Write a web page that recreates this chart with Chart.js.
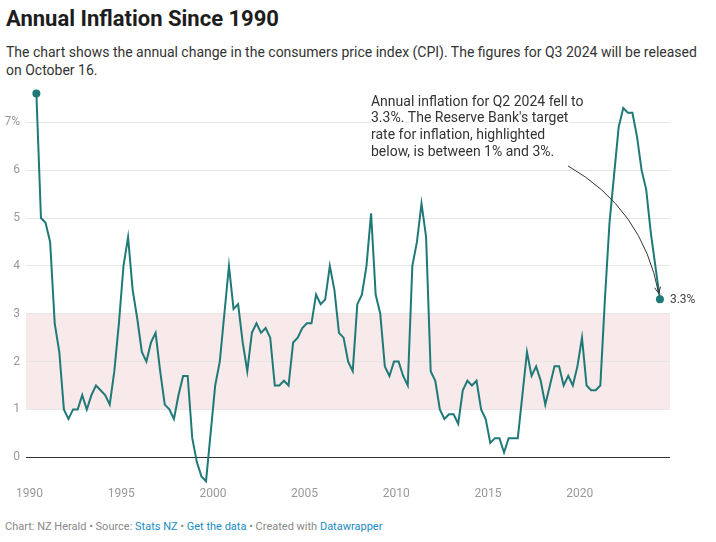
<!DOCTYPE html>
<html>
<head>
<meta charset="utf-8">
<script src="https://cdn.jsdelivr.net/npm/chart.js@4/dist/chart.umd.min.js"></script>
<style>
  html, body { margin:0; padding:0; background:#fff; }
  body { width:716px; height:542px; position:relative; overflow:hidden; font-family: Roboto, "Noto Sans", sans-serif; }
  #title { position:absolute; left:6px; top:6px; font-weight:700; font-size:22px; line-height:26px; color:#1d1d1d; white-space:nowrap; }
  #subtitle { position:absolute; left:6px; top:43px; width:705px; font-size:14px; line-height:18px; color:#333; }
  #footer { position:absolute; left:5px; top:520px; font-size:11px; line-height:14px; color:#888; white-space:nowrap; }
  #footer .lnk { color:#1a8bc4; }
  #wrap { position:absolute; left:0; top:80px; width:716px; height:430px; }
</style>
</head>
<body>
<div id="title">Annual Inflation Since 1990</div>
<div id="subtitle">The chart shows the annual change in the consumers price index (CPI). The figures for Q3 2024 will be released on October 16.</div>
<div id="footer">Chart: NZ Herald • Source: <span class="lnk">Stats NZ</span> • <span class="lnk">Get the data</span> • Created with <span class="lnk">Datawrapper</span></div>
<div id="wrap"><canvas id="c" width="716" height="430"></canvas></div>
<script>
// ---- DATA ----
const quarters = [
  "1990Q2","1990Q3","1990Q4",
  "1991Q1","1991Q2","1991Q3","1991Q4",
  "1992Q1","1992Q2","1992Q3","1992Q4",
  "1993Q1","1993Q2","1993Q3","1993Q4",
  "1994Q1","1994Q2","1994Q3","1994Q4",
  "1995Q1","1995Q2","1995Q3","1995Q4",
  "1996Q1","1996Q2","1996Q3","1996Q4",
  "1997Q1","1997Q2","1997Q3","1997Q4",
  "1998Q1","1998Q2","1998Q3","1998Q4",
  "1999Q1","1999Q2","1999Q3","1999Q4",
  "2000Q1","2000Q2","2000Q3","2000Q4",
  "2001Q1","2001Q2","2001Q3","2001Q4",
  "2002Q1","2002Q2","2002Q3","2002Q4",
  "2003Q1","2003Q2","2003Q3","2003Q4",
  "2004Q1","2004Q2","2004Q3","2004Q4",
  "2005Q1","2005Q2","2005Q3","2005Q4",
  "2006Q1","2006Q2","2006Q3","2006Q4",
  "2007Q1","2007Q2","2007Q3","2007Q4",
  "2008Q1","2008Q2","2008Q3","2008Q4",
  "2009Q1","2009Q2","2009Q3","2009Q4",
  "2010Q1","2010Q2","2010Q3","2010Q4",
  "2011Q1","2011Q2","2011Q3","2011Q4",
  "2012Q1","2012Q2","2012Q3","2012Q4",
  "2013Q1","2013Q2","2013Q3","2013Q4",
  "2014Q1","2014Q2","2014Q3","2014Q4",
  "2015Q1","2015Q2","2015Q3","2015Q4",
  "2016Q1","2016Q2","2016Q3","2016Q4",
  "2017Q1","2017Q2","2017Q3","2017Q4",
  "2018Q1","2018Q2","2018Q3","2018Q4",
  "2019Q1","2019Q2","2019Q3","2019Q4",
  "2020Q1","2020Q2","2020Q3","2020Q4",
  "2021Q1","2021Q2","2021Q3","2021Q4",
  "2022Q1","2022Q2","2022Q3","2022Q4",
  "2023Q1","2023Q2","2023Q3","2023Q4",
  "2024Q1","2024Q2"
];
const inflation = [
  7.6, 5.0, 4.9,
  4.5, 2.8, 2.2, 1.0,
  0.8, 1.0, 1.0, 1.3,
  1.0, 1.3, 1.5, 1.4,
  1.3, 1.1, 1.8, 2.8,
  4.0, 4.6, 3.5, 2.9,
  2.2, 2.0, 2.4, 2.6,
  1.8, 1.1, 1.0, 0.8,
  1.3, 1.7, 1.7, 0.4,
  -0.1, -0.4, -0.5, 0.5,
  1.5, 2.0, 3.0, 4.0,
  3.1, 3.2, 2.4, 1.8,
  2.6, 2.8, 2.6, 2.7,
  2.5, 1.5, 1.5, 1.6,
  1.5, 2.4, 2.5, 2.7,
  2.8, 2.8, 3.4, 3.2,
  3.3, 4.0, 3.5, 2.6,
  2.5, 2.0, 1.8, 3.2,
  3.4, 4.0, 5.1, 3.4,
  3.0, 1.9, 1.7, 2.0,
  2.0, 1.7, 1.5, 4.0,
  4.5, 5.3, 4.6, 1.8,
  1.6, 1.0, 0.8, 0.9,
  0.9, 0.7, 1.4, 1.6,
  1.5, 1.6, 1.0, 0.8,
  0.3, 0.4, 0.4, 0.1,
  0.4, 0.4, 0.4, 1.3,
  2.2, 1.7, 1.9, 1.6,
  1.1, 1.5, 1.9, 1.9,
  1.5, 1.7, 1.5, 1.9,
  2.5, 1.5, 1.4, 1.4,
  1.5, 3.3, 4.9, 5.9,
  6.9, 7.3, 7.2, 7.2,
  6.7, 6.0, 5.6, 4.7,
  4.0, 3.3
];
const xTickValues = [1990, 1995, 2000, 2005, 2010, 2015, 2020];
const xTickLabels = ["1990", "1995", "2000", "2005", "2010", "2015", "2020"];
const yTickValues = [0, 1, 2, 3, 4, 5, 6, 7];
const yTickLabels = ["0", "1", "2", "3", "4", "5", "6", "7%"];
const targetBand = [1, 3];
const annotationLines = [
  "Annual inflation for Q2 2024 fell to",
  "3.3%. The Reserve Bank's target",
  "rate for inflation, highlighted",
  "below, is between 1% and 3%."
];

// quarter label -> decimal year (middle of quarter)
function quarterToYear(q) {
  const y = parseInt(q.slice(0, 4), 10);
  const n = parseInt(q.slice(5), 10);
  return y + (n - 0.5) / 4;
}
const points = quarters.map((q, i) => ({ x: quarterToYear(q), y: inflation[i] }));

const LINE = '#1f7a77';

const bandPlugin = {
  id: 'band',
  beforeDraw(chart) {
    const { ctx, chartArea, scales } = chart;
    const y1 = scales.y.getPixelForValue(targetBand[1]);
    const y0 = scales.y.getPixelForValue(targetBand[0]);
    ctx.save();
    ctx.fillStyle = '#f8e9ea';
    ctx.fillRect(chartArea.left, y1, chartArea.right - chartArea.left, y0 - y1);
    ctx.restore();
  }
};

const annoPlugin = {
  id: 'anno',
  afterDatasetsDraw(chart) {
    const { ctx, scales } = chart;
    const xs = scales.x, ys = scales.y;
    ctx.save();
    // annotation text
    const tx = xs.getPixelForValue(2008.62);
    const ty = ys.getPixelForValue(7.42);
    ctx.font = '14px Roboto';
    ctx.textBaseline = 'middle';
    ctx.textAlign = 'left';
    ctx.lineJoin = 'round';
    annotationLines.forEach((l, i) => {
      ctx.strokeStyle = '#fff';
      ctx.lineWidth = 4;
      ctx.strokeText(l, tx, ty + i * 16.7);
    });
    ctx.fillStyle = '#333';
    annotationLines.forEach((l, i) => ctx.fillText(l, tx, ty + i * 16.7));

    // arrow
    const last = chart.getDatasetMeta(0).data[inflation.length - 1];
    const sx = xs.getPixelForValue(2019.36), sy = ys.getPixelForValue(6.09);
    const ex = last.x - 1.2, ey = last.y - 6;
    const mx = (sx + ex) / 2, my = (sy + ey) / 2;
    const dx = ex - sx, dy = ey - sy, len = Math.hypot(dx, dy);
    const px = dy / len, py = -dx / len; // perpendicular toward upper-right
    const bulge = 18;
    const qx = mx + px * bulge, qy = my + py * bulge;
    const cx = 2 * qx - mx, cy = 2 * qy - my;
    ctx.beginPath();
    ctx.moveTo(sx, sy);
    ctx.quadraticCurveTo(cx, cy, ex, ey);
    ctx.strokeStyle = '#333';
    ctx.lineWidth = 1;
    ctx.stroke();
    const ang = Math.atan2(ey - cy, ex - cx);
    const ah = 7, spread = 0.45;
    ctx.beginPath();
    ctx.moveTo(ex - ah * Math.cos(ang - spread), ey - ah * Math.sin(ang - spread));
    ctx.lineTo(ex, ey);
    ctx.lineTo(ex - ah * Math.cos(ang + spread), ey - ah * Math.sin(ang + spread));
    ctx.stroke();

    // end value label
    ctx.font = '12px Roboto';
    ctx.fillStyle = '#444';
    ctx.textBaseline = 'middle';
    ctx.fillText(inflation[inflation.length - 1] + '%', last.x + 10, last.y + 1);
    ctx.restore();
  }
};

new Chart(document.getElementById('c'), {
  type: 'line',
  data: {
    datasets: [{
      data: points,
      borderColor: LINE,
      backgroundColor: LINE,
      borderWidth: 2,
      tension: 0,
      clip: false,
      pointRadius: (c) => (c.dataIndex === 0 || c.dataIndex === inflation.length - 1) ? 4 : 0,
      pointBorderWidth: 0,
      pointHoverRadius: 0
    }]
  },
  options: {
    responsive: false,
    animation: false,
    devicePixelRatio: 1,
    layout: { padding: { left: 0, right: 46, top: 8.8, bottom: 0 } },
    plugins: { legend: { display: false }, tooltip: { enabled: false } },
    scales: {
      x: {
        type: 'linear',
        min: 1989.809,
        max: 2024.924,
        grid: { display: false, drawTicks: false },
        border: { display: false },
        afterBuildTicks: (s) => { s.ticks = xTickValues.map(v => ({ value: v })); },
        afterFit: (s) => { s.height = 24; s.paddingLeft = 0; s.paddingRight = 0; },
        ticks: {
          autoSkip: false, maxRotation: 0, padding: 1,
          color: '#999',
          font: { family: 'Roboto', size: 12 },
          callback: (v) => xTickLabels[xTickValues.indexOf(v)]
        }
      },
      y: {
        min: -0.6,
        max: 7.7,
        grid: {
          drawTicks: false,
          lineWidth: 1,
          color: (c) => (c.tick && c.tick.value === 0) ? '#333' : '#e6e6e6'
        },
        border: { display: false },
        afterBuildTicks: (s) => { s.ticks = yTickValues.map(v => ({ value: v })); },
        afterFit: (s) => { s.width = 26; s.paddingTop = 0; s.paddingBottom = 0; },
        ticks: {
          padding: 6,
          color: '#999',
          font: { family: 'Roboto', size: 12 },
          callback: (v) => yTickLabels[yTickValues.indexOf(v)]
        }
      }
    }
  },
  plugins: [bandPlugin, annoPlugin]
});
</script>
</body>
</html>
